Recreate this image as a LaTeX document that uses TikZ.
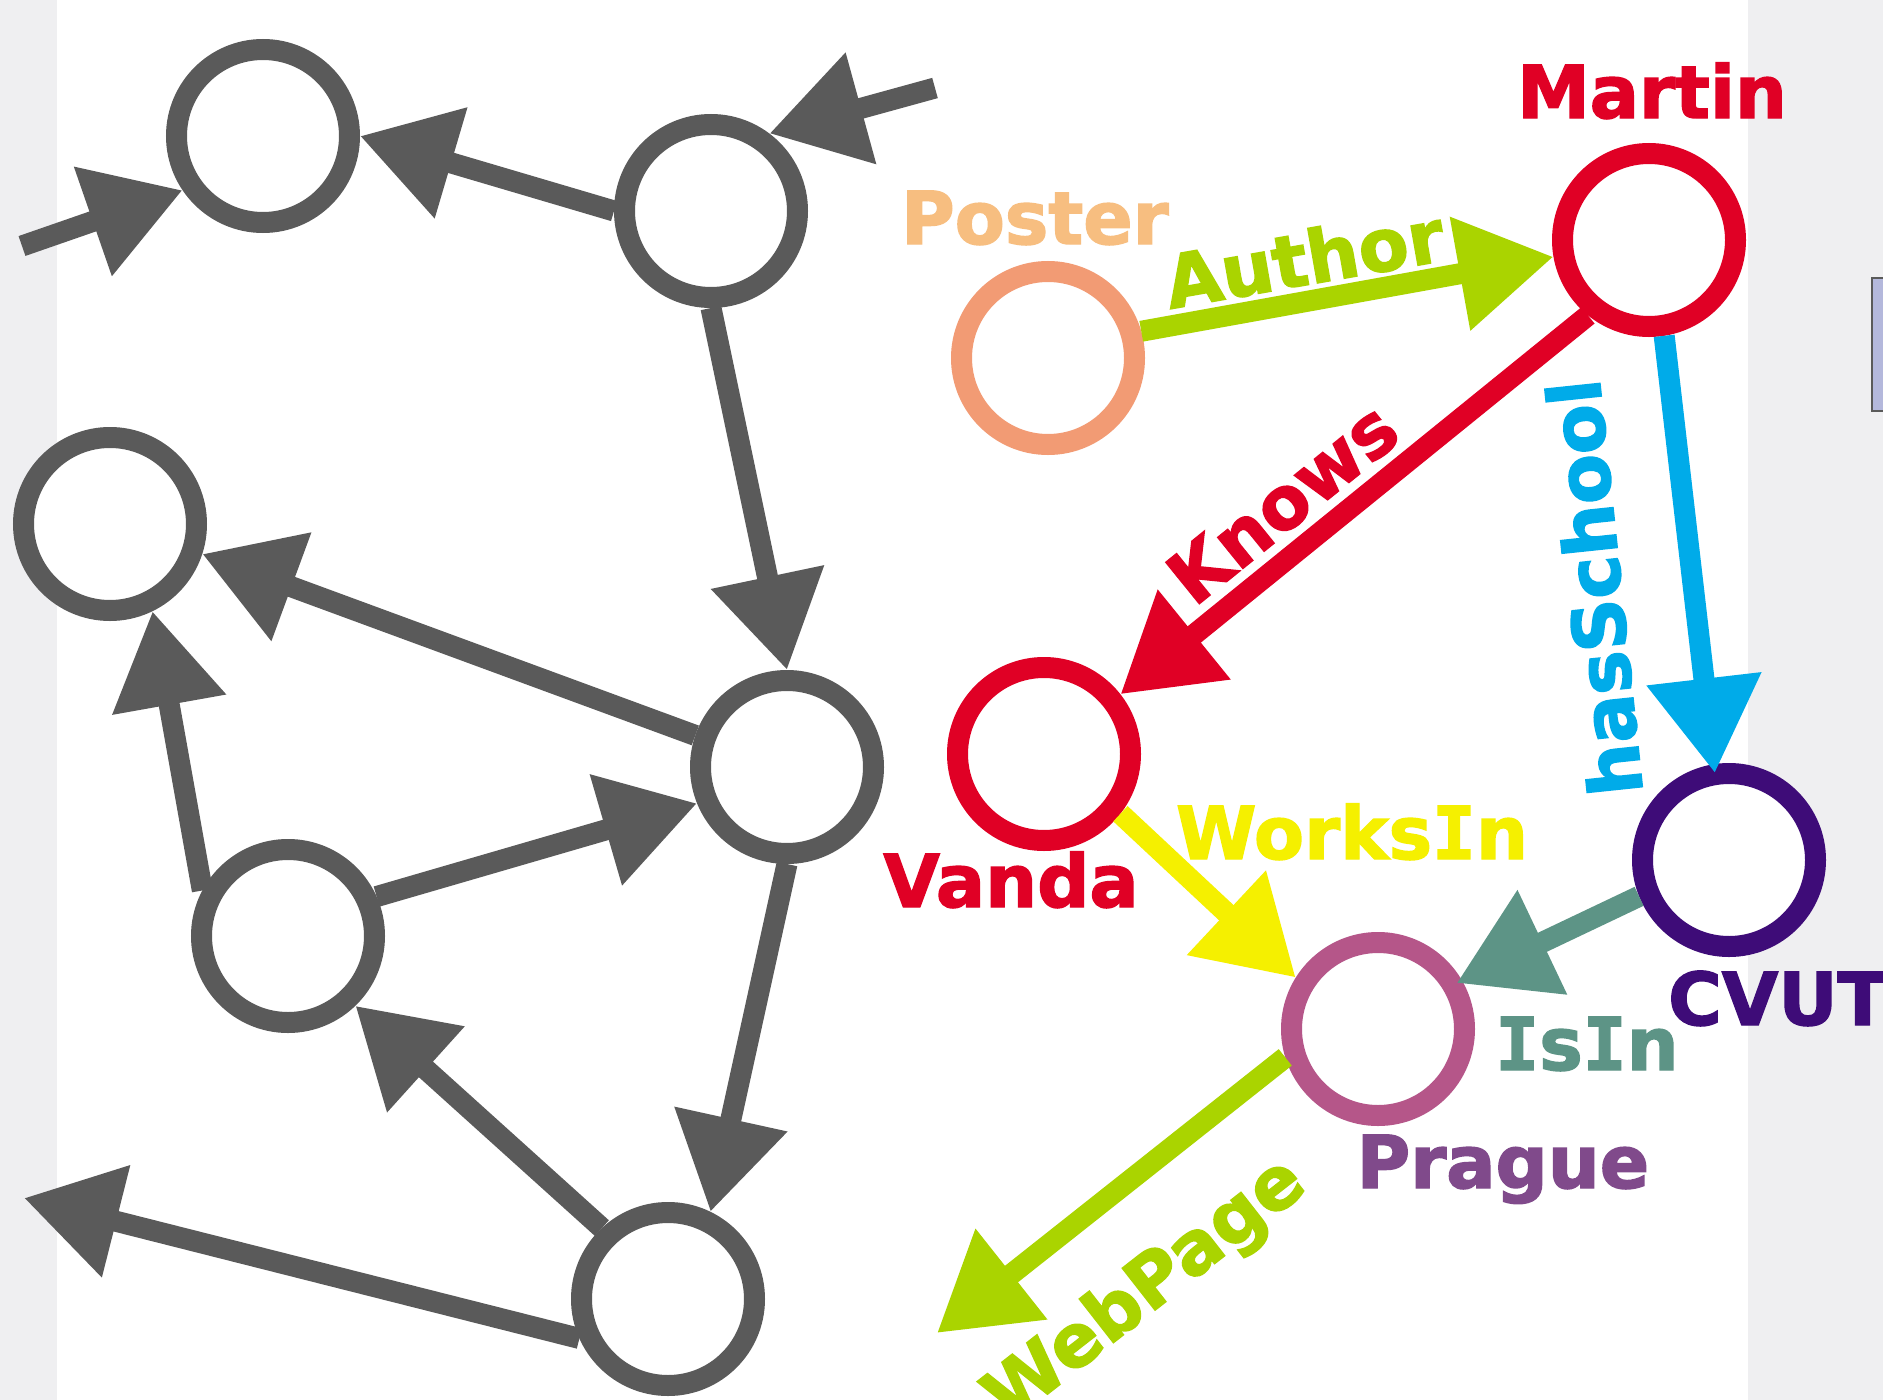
\documentclass[tikz,border=0pt]{standalone}
\usepackage{fontspec}
\setmainfont{DejaVu Sans}
\newfontfamily\lblfont{DejaVu Sans Bold}[FakeBold=2]
\newfontfamily\serifI{DejaVu Sans Mono Bold}[FakeBold=2]
\newcommand{\sI}{{\serifI I}}
\usetikzlibrary{arrows.meta}
\definecolor{gr}{HTML}{5A5A5A}
\definecolor{bgg}{HTML}{EFEFF1}
\definecolor{lav}{HTML}{B4B8DC}
\definecolor{myred}{HTML}{E00025}
\definecolor{posterring}{HTML}{F29B74}
\definecolor{postertext}{HTML}{F7BE80}
\definecolor{lime}{HTML}{AAD400}
\definecolor{sky}{HTML}{00ABE9}
\definecolor{yel}{HTML}{F5F000}
\definecolor{teal2}{HTML}{5D9486}
\definecolor{purp}{HTML}{3E0C78}
\definecolor{pinkring}{HTML}{B55689}
\definecolor{praguetext}{HTML}{804A8B}
\tikzset{
  nd/.style={circle, draw=#1, line width=21pt, minimum size=173pt, inner sep=0pt, fill=white},
  ar/.style={draw=#1, line width=21pt, -{Triangle[length=95pt,width=110pt]}},
  lbl/.style={font=\fontsize{73}{73}\selectfont\lblfont, text=#1, inner sep=0pt}
}
\begin{document}
\begin{tikzpicture}[x=1pt,y=-1pt]
\useasboundingbox (0,0) rectangle (1883,1400);
\clip (0,0) rectangle (1883,1400);
\fill[white] (0,0) rectangle (1883,1400);
\fill[bgg] (0,0) rectangle (57,1400);
\fill[bgg] (1748,0) rectangle (1883,1400);
\draw[fill=lav, draw=gr, line width=1.5pt] (1872,278) rectangle (1900,411);

% nodes
\node[nd=gr] (n1) at (263,136) {};
\node[nd=gr] (n2) at (711,211) {};
\node[nd=gr] (n3) at (110,524) {};
\node[nd=gr] (n4) at (787,767) {};
\node[nd=gr] (n5) at (288,936) {};
\node[nd=gr] (n6) at (668,1299) {};
\node[nd=posterring] (poster) at (1048,358) {};
\node[nd=myred] (martin) at (1649,240) {};
\node[nd=myred] (vanda) at (1044,754) {};
\node[nd=purp] (cvut) at (1729,860) {};
\node[nd=pinkring] (prague) at (1378,1029) {};

\coordinate (f1) at (22,246);
\coordinate (f2) at (935,88);
\coordinate (f3) at (24,1198);
\coordinate (f4) at (937,1333);

% gray arrows
\draw[ar=gr] (f1) -- (n1.214);
\draw[ar=gr] (n2.west) -- (n1.east);
\draw[ar=gr] (f2) -- (n2.53);
\draw[ar=gr] (n2.south) -- (n4.north);
\draw[ar=gr] (n4.161) -- (n3.-18);
\draw[ar=gr] (n5.152) -- (n3.-64);
\draw[ar=gr] (n5.24) -- (n4.202);
\draw[ar=gr] (n4.south) -- (n6.64);
\draw[ar=gr] (n6.133) -- (n5.-46);
\draw[ar=gr] (n6.204) -- (f3);

% coloured arrows
\draw[ar=lime] (poster.16) -- (martin.190);
\draw[ar=myred] (martin.231) -- (vanda.38);
\draw[ar=sky, shorten >=-9pt] (martin.-81) -- (cvut.99);
\draw[ar=yel] (vanda.-38) -- (prague.148);
\draw[ar=teal2, shorten >=-6pt] (cvut.202) -- (prague.30);
\draw[ar=lime] (prague.197) -- (f4);

% labels
\node[lbl=postertext, anchor=base] (lposter) at (1035,244) {Poster};
\node[lbl=myred, anchor=base] (lmartin) at (1652,118) {Martin};
\node[lbl=myred, anchor=base] (lvanda) at (1011,907) {Vanda};
\node[lbl=yel, anchor=base] (lworks) at (1352,859) {Works\sI n};
\node[lbl=teal2, anchor=base] (lisin) at (1587,1070) {\sI s\sI n};
\node[lbl=praguetext, anchor=base] (lprague) at (1503,1188) {Prague};
\node[lbl=purp, anchor=base west] (lcvut) at (1668,1025) {CVUT};
\node[lbl=lime, anchor=base west, rotate=10] (lauthor) at (1170,309) {Author};
\node[lbl=myred, anchor=base west, rotate=39] (lknows) at (1194,608) {Knows};
\node[lbl=sky, anchor=base west, rotate=96] (lschool) at (1643,793) {hasSchool};
\node[lbl=lime, anchor=base west, rotate=38] (lweb) at (1008,1425) {WebPage};
\end{tikzpicture}
\end{document}
